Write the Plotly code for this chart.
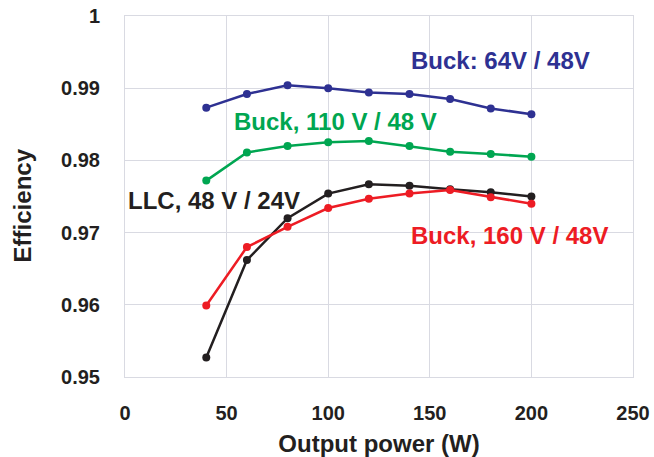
import plotly.graph_objects as go

# Output power (W) at which efficiency was measured
power_w = [40, 60, 80, 100, 120, 140, 160, 180, 200]

# Measured efficiency for each converter configuration
eff_buck_64_48 = [0.9873, 0.9892, 0.9904, 0.9900, 0.9894, 0.9892, 0.9885, 0.9872, 0.9864]
eff_buck_110_48 = [0.9772, 0.9811, 0.9820, 0.9825, 0.9827, 0.9820, 0.9812, 0.9809, 0.9805]
eff_llc_48_24 = [0.9527, 0.9662, 0.9720, 0.9754, 0.9767, 0.9765, 0.9760, 0.9756, 0.9750]
eff_buck_160_48 = [0.9599, 0.9680, 0.9708, 0.9734, 0.9747, 0.9754, 0.9759, 0.9749, 0.9740]

series_names = ["Buck: 64V / 48V", "Buck, 110 V / 48 V", "LLC, 48 V / 24V", "Buck, 160 V / 48V"]
series_values = [eff_buck_64_48, eff_buck_110_48, eff_llc_48_24, eff_buck_160_48]
series_colors = ["#2E3192", "#00A651", "#231F20", "#ED1C24"]

# Label anchor points (left edge, vertical middle) in data coordinates
label_x = [140.3, 53.0, 1.1, 140.3]
label_y = [0.99384, 0.98532, 0.97438, 0.96953]

x_ticks = [0, 50, 100, 150, 200, 250]
y_ticks = [0.95, 0.96, 0.97, 0.98, 0.99, 1.0]
y_tick_text = ["0.95", "0.96", "0.97", "0.98", "0.99", "1"]

x_title = "Output power (W)"
y_title = "Efficiency"

FONT = "Liberation Sans, Arial, sans-serif"
GRID = "#D9DAE2"
TEXT = "#231F20"

fig = go.Figure()

for name, vals, color in zip(series_names, series_values, series_colors):
    fig.add_trace(go.Scatter(
        x=power_w, y=vals, name=name, mode="lines+markers",
        line=dict(color=color, width=2.5),
        marker=dict(color=color, size=8),
        showlegend=False,
    ))

for name, color, lx, ly in zip(series_names, series_colors, label_x, label_y):
    fig.add_annotation(
        x=lx, y=ly, xref="x", yref="y", text=name, showarrow=False,
        xanchor="left", yanchor="middle", borderpad=0,
        font=dict(family=FONT, size=24, color=color, weight="bold"),
    )

# Vertical axis title, placed a little below the plot's vertical centre
fig.add_annotation(
    x=0, y=0.474, xref="paper", yref="paper", xshift=-117,
    text=y_title, textangle=-90, showarrow=False,
    xanchor="left", yanchor="middle", borderpad=0,
    font=dict(family=FONT, size=24, color=TEXT, weight="bold"),
)

fig.update_layout(
    width=654, height=457,
    margin=dict(l=125, r=21, t=16, b=80),
    paper_bgcolor="white", plot_bgcolor="white",
    font=dict(family=FONT, color=TEXT),
)

fig.update_xaxes(
    range=[0, 250], tickvals=x_ticks, automargin=False,
    showgrid=True, gridcolor=GRID, gridwidth=1,
    showline=True, linecolor=GRID, linewidth=1, mirror=True,
    zeroline=False, ticks="", ticklabelstandoff=18,
    tickfont=dict(family=FONT, size=20, color=TEXT, weight="bold"),
    title=dict(text=x_title, standoff=14,
               font=dict(family=FONT, size=24, color=TEXT, weight="bold")),
)
fig.update_yaxes(
    range=[0.95, 1.0], tickvals=y_ticks, ticktext=y_tick_text, automargin=False,
    showgrid=True, gridcolor=GRID, gridwidth=1,
    showline=True, linecolor=GRID, linewidth=1, mirror=True,
    zeroline=False, ticks="", ticklabelstandoff=20,
    tickfont=dict(family=FONT, size=20, color=TEXT, weight="bold"),
)

fig.write_html("out.html")
